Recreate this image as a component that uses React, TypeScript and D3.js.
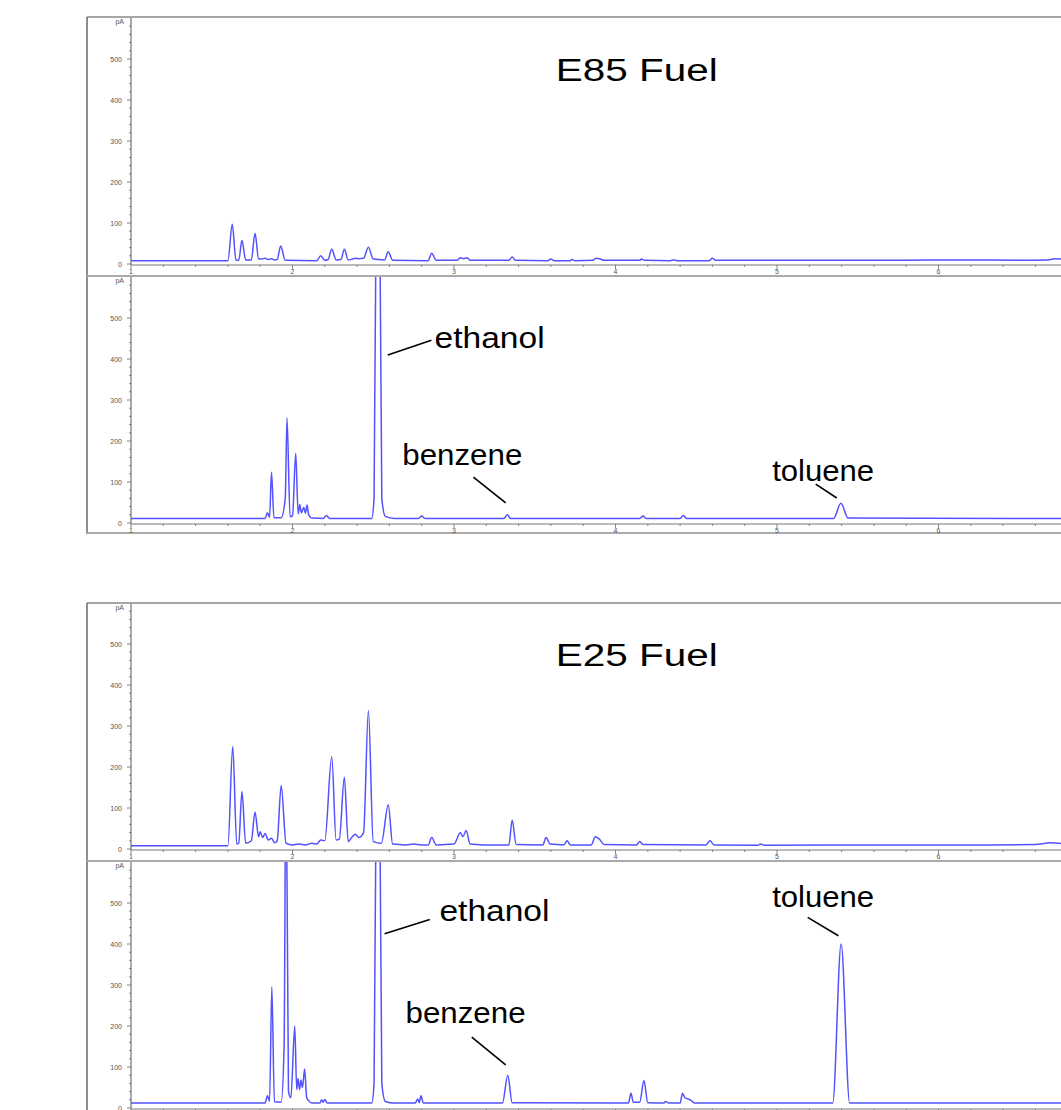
import React from 'react';
import * as d3 from 'd3';

type Pt = [number, number];

// retention time (min), signal (pA)
const xMajorTicks = [1, 2, 3, 4, 5, 6];
const yMajorTicks = [0, 100, 200, 300, 400, 500];

const e85Upper: Pt[] = [
  [1.0, 8], [1.60, 8], [1.627, 97], [1.65, 9], [1.667, 9], [1.687, 58], [1.71, 10], [1.745, 10],
  [1.768, 75], [1.79, 13], [1.81, 12], [1.83, 14], [1.85, 11], [1.87, 13], [1.89, 10], [1.905, 11],
  [1.927, 44], [1.955, 9], [2.15, 8], [2.175, 20], [2.2, 9], [2.22, 11], [2.243, 36], [2.27, 10],
  [2.30, 11], [2.321, 36], [2.345, 10], [2.37, 12], [2.39, 14], [2.41, 13], [2.44, 14], [2.47, 41],
  [2.50, 12], [2.57, 10], [2.593, 30], [2.62, 9], [2.84, 8], [2.862, 26], [2.89, 9], [3.02, 9],
  [3.04, 15], [3.06, 13], [3.08, 15], [3.10, 9], [3.34, 9], [3.36, 17], [3.38, 9], [3.58, 8],
  [3.60, 12], [3.62, 8], [3.72, 8], [3.73, 11], [3.75, 8], [3.86, 9], [3.88, 14], [3.90, 13],
  [3.93, 9], [4.15, 9], [4.16, 12], [4.18, 9], [4.34, 8], [4.36, 10], [4.38, 8], [4.58, 8],
  [4.60, 14], [4.62, 9], [5.8, 9], [6.1, 10], [6.5, 9], [6.68, 10], [6.72, 13], [6.8, 11],
];

const e85Lower: Pt[] = [
  [1.0, 11], [1.83, 11], [1.845, 25], [1.858, 14], [1.87, 124], [1.885, 13], [1.93, 13], [1.955, 60],
  [1.966, 256], [1.985, 15], [2.0, 18], [2.02, 170], [2.035, 22], [2.045, 45], [2.055, 25], [2.07, 38],
  [2.08, 24], [2.09, 44], [2.10, 20], [2.12, 12], [2.19, 11], [2.21, 18], [2.23, 11], [2.49, 11],
  [2.505, 60], [2.515, 600], [2.529, 3000], [2.543, 600], [2.553, 60], [2.575, 16], [2.63, 11],
  [2.78, 11], [2.80, 17], [2.82, 11], [3.31, 11], [3.33, 20], [3.35, 11], [4.15, 11], [4.17, 17],
  [4.19, 11], [4.40, 11], [4.42, 18], [4.44, 11], [5.35, 11], [5.396, 48], [5.44, 12], [6.8, 11],
];

const e25Upper: Pt[] = [
  [1.0, 8], [1.60, 8], [1.630, 250], [1.655, 12], [1.667, 14], [1.687, 140], [1.71, 14], [1.745, 20],
  [1.768, 90], [1.79, 30], [1.80, 42], [1.815, 28], [1.83, 38], [1.85, 22], [1.87, 26], [1.89, 15],
  [1.905, 20], [1.93, 155], [1.96, 14], [2.0, 10], [2.04, 12], [2.08, 10], [2.12, 14], [2.15, 12],
  [2.175, 22], [2.2, 20], [2.243, 225], [2.27, 22], [2.29, 24], [2.321, 175], [2.345, 18],
  [2.37, 30], [2.39, 36], [2.41, 28], [2.44, 40], [2.47, 338], [2.50, 18], [2.55, 14], [2.593, 108],
  [2.62, 12], [2.70, 10], [2.75, 12], [2.80, 10], [2.84, 10], [2.862, 28], [2.89, 10], [3.0, 12],
  [3.04, 40], [3.055, 30], [3.075, 45], [3.10, 12], [3.18, 10], [3.34, 10], [3.36, 70], [3.385, 11],
  [3.55, 10], [3.57, 28], [3.595, 12], [3.68, 10], [3.70, 20], [3.72, 10], [3.85, 10], [3.875, 30],
  [3.90, 24], [3.93, 11], [4.13, 10], [4.15, 18], [4.17, 11], [4.56, 10], [4.585, 20], [4.61, 10],
  [4.88, 9], [4.90, 12], [4.92, 9], [5.8, 10], [6.3, 10], [6.6, 11], [6.69, 15], [6.8, 12],
];

const e25Lower: Pt[] = [
  [1.0, 12], [1.83, 12], [1.845, 30], [1.858, 16], [1.872, 295], [1.888, 15], [1.93, 14], [1.948, 150],
  [1.960, 900], [1.975, 40], [1.99, 25], [2.014, 200], [2.026, 45], [2.034, 72], [2.044, 45],
  [2.052, 68], [2.062, 50], [2.075, 95], [2.088, 25], [2.10, 18], [2.12, 12], [2.17, 12], [2.18, 20],
  [2.19, 14], [2.20, 21], [2.215, 12], [2.49, 12], [2.505, 60], [2.515, 600], [2.529, 3000],
  [2.543, 600], [2.553, 60], [2.575, 16], [2.63, 12], [2.76, 12], [2.775, 22], [2.785, 13],
  [2.795, 30], [2.81, 12], [3.30, 12], [3.333, 80], [3.36, 13], [4.08, 12], [4.096, 36], [4.11, 14],
  [4.15, 14], [4.176, 67], [4.20, 13], [4.30, 12], [4.31, 16], [4.33, 12], [4.40, 12], [4.415, 36],
  [4.43, 25], [4.45, 22], [4.47, 18], [4.49, 12], [5.345, 12], [5.397, 400], [5.45, 12], [6.8, 12],
];

type Note = { text: string; width: number; tx: number; ty: number; x1: number; y1: number; x2: number; y2: number };

const e85Notes: Note[] = [
  { text: 'ethanol', width: 110, tx: 2.88, ty: 428, x1: 2.59, y1: 410, x2: 2.86, y2: 446 },
  { text: 'benzene', width: 120, tx: 2.68, ty: 142, x1: 3.12, y1: 112, x2: 3.32, y2: 49 },
  { text: 'toluene', width: 102, tx: 4.97, ty: 102, x1: 5.24, y1: 95, x2: 5.37, y2: 61 },
];

const e25Notes: Note[] = [
  { text: 'ethanol', width: 110, tx: 2.91, ty: 455, x1: 2.57, y1: 425, x2: 2.85, y2: 460 },
  { text: 'benzene', width: 120, tx: 2.70, ty: 207, x1: 3.11, y1: 173, x2: 3.32, y2: 105 },
  { text: 'toluene', width: 102, tx: 4.97, ty: 490, x1: 5.19, y1: 465, x2: 5.38, y2: 420 },
];

const x = d3.scaleLinear().domain([1, 7]).range([131, 1100]);
const lineColor = '#5252ff';
const font = 'Liberation Sans, Arial, sans-serif';

type PanelProps = {
  data: Pt[]; top: number; y0: number; id: string;
  notes?: Note[]; title?: string; showXLabels?: boolean;
};

function Panel({ data, top, y0, id, notes, title, showXLabels = true }: PanelProps) {
  const y = d3.scaleLinear().domain([0, 500]).range([y0, y0 - 205]);
  const line = d3.line<Pt>().x(d => x(d[0])).y(d => y(d[1])).curve(d3.curveMonotoneX);
  const minorY = d3.range(0, 620, 20).filter(v => y(v) > top + 2);
  const minorX = d3.range(1, 7, 0.2);
  return (
    <g>
      <defs>
        <clipPath id={id}>
          <rect x={131} y={top + 1} width={1000} height={y0 - top + 2} />
        </clipPath>
      </defs>
      <line x1={131} x2={131} y1={top + 1} y2={y0 + 1} stroke="#555" strokeWidth={1} />
      <line x1={131} x2={1061} y1={y0 + 1} y2={y0 + 1} stroke="#777" strokeWidth={1} />
      {minorY.map(v => (
        <line key={'my' + v} x1={v % 100 === 0 ? 127 : 129} x2={131} y1={y(v)} y2={y(v)} stroke="#666" strokeWidth={0.8} />
      ))}
      {yMajorTicks.map(v => (
        <text key={'ty' + v} x={122} y={y(v) + 2.5} fontSize={7} fill="#555" textAnchor="end" fontFamily={font}>{v}</text>
      ))}
      <text x={124} y={top + 7} fontSize={7} fill="#555" textAnchor="end" fontFamily={font}>pA</text>
      {minorX.map((v, i) => (
        <line key={'mx' + i} x1={x(v)} x2={x(v)} y1={y0 + 1} y2={y0 + (i % 5 === 0 ? 5 : 3)} stroke="#666" strokeWidth={0.8} />
      ))}
      {showXLabels && xMajorTicks.map(v => (
        <text key={'tx' + v} x={x(v)} y={y0 + 10} fontSize={7} fill="#555" textAnchor="middle" fontFamily={font}>{v}</text>
      ))}
      <path d={line(data) || ''} fill="none" stroke={lineColor} strokeWidth={1.5} strokeLinejoin="round" clipPath={`url(#${id})`} />
      {title && (
        <text x={x(3.63)} y={y(447)} fontSize={31} textLength={162} lengthAdjust="spacingAndGlyphs" fontFamily={font} fill="#000">{title}</text>
      )}
      {notes && notes.map(n => (
        <g key={n.text}>
          <line x1={x(n.x1)} y1={y(n.y1)} x2={x(n.x2)} y2={y(n.y2)} stroke="#000" strokeWidth={1.6} />
          <text x={x(n.tx)} y={y(n.ty)} fontSize={29} textLength={n.width} lengthAdjust="spacingAndGlyphs" fontFamily={font} fill="#000">{n.text}</text>
        </g>
      ))}
    </g>
  );
}

function Frame({ top, bottom, seps }: { top: number; bottom: number; seps: number[] }) {
  return (
    <g>
      <line x1={87} x2={1061} y1={top} y2={top} stroke="#888" strokeWidth={1.5} />
      <line x1={87} x2={87} y1={top} y2={bottom} stroke="#444" strokeWidth={1.2} />
      {seps.map(s => (
        <line key={s} x1={87} x2={1061} y1={s} y2={s} stroke="#aaa" strokeWidth={2} />
      ))}
    </g>
  );
}

export default function App() {
  return (
    <svg width={1061} height={1110} style={{ position: 'absolute', left: 0, top: 0, background: '#fff' }}>
      <rect width={1061} height={1110} fill="#fff" />
      <Frame top={17} bottom={534} seps={[276, 533]} />
      <Panel id="c1" data={e85Upper} top={17} y0={264} title="E85 Fuel" />
      <Panel id="c2" data={e85Lower} top={276} y0={523} notes={e85Notes} />
      <Frame top={603} bottom={1110} seps={[861]} />
      <Panel id="c3" data={e25Upper} top={603} y0={849} title="E25 Fuel" />
      <Panel id="c4" data={e25Lower} top={861} y0={1108} notes={e25Notes} showXLabels={false} />
    </svg>
  );
}
